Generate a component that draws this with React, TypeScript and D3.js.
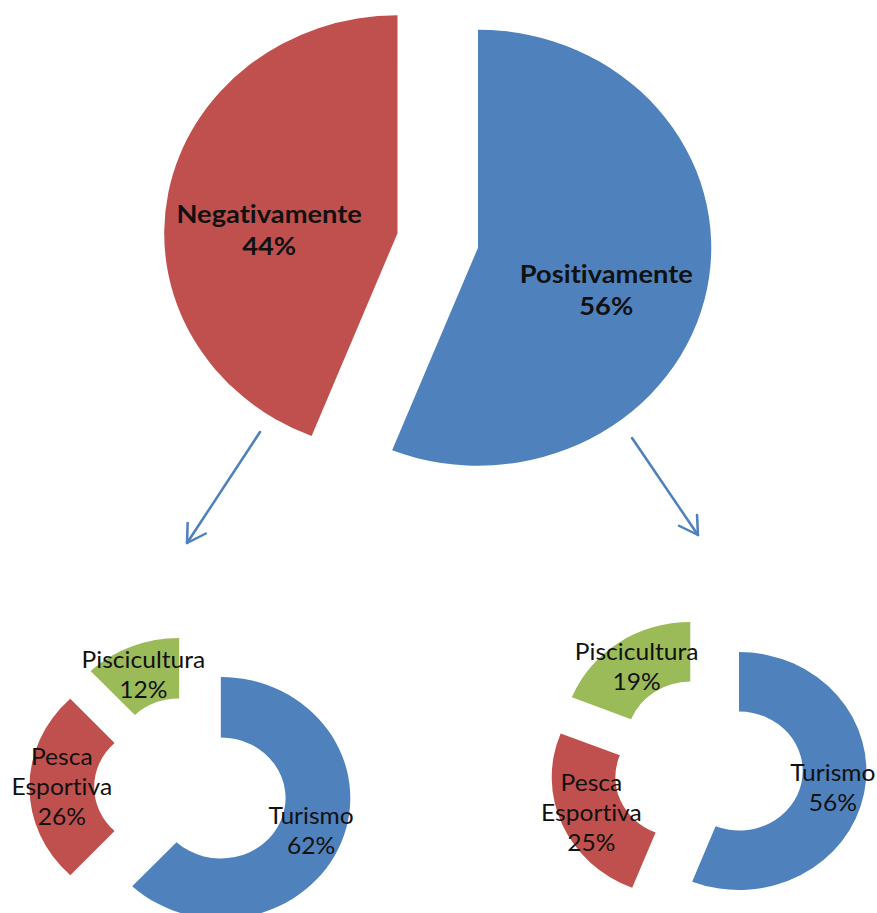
import React from "react";
import * as d3 from "d3";

// ---- data ----
const topCategories = ["Positivamente", "Negativamente"];
const topValues = [56, 44];

const subCategories = ["Turismo", "Pesca Esportiva", "Piscicultura"];
const negativeValues = [62, 26, 12];
const positiveValues = [56, 25, 19];

const sliceColors = ["#4F81BD", "#C0504D", "#9BBB59"];

// ---- layout (unstretched coordinates; whole drawing is stretched horizontally) ----
const W = 877;
const H = 913;
const SX = 1.07;
const TEXT = "#111111";

type Layout = { cx: number; cy: number; r: number; inner: number; explode: number };

const topLayout: Layout = { cx: 409.1, cy: 240.5, r: 218, inner: 0, explode: 38.3 };
const leftLayout: Layout = { cx: 178.5, cy: 787, r: 121, inner: 0.5, explode: 30 };
const rightLayout: Layout = { cx: 661.7, cy: 765.5, r: 119, inner: 0.5, explode: 29.5 };

const arrows = [
  { from: [243, 432], to: [174.8, 543] },
  { from: [590.7, 438], to: [652.3, 535] },
];

function polar(angle: number, r: number): [number, number] {
  return [Math.sin(angle) * r, -Math.cos(angle) * r];
}

function ExplodedPie({
  categories,
  values,
  layout,
  donut,
}: {
  categories: string[];
  values: number[];
  layout: Layout;
  donut: boolean;
}) {
  const pie = d3
    .pie<number>()
    .sort(null)
    .value((d) => d)
    .startAngle(0)
    .endAngle(2 * Math.PI);
  const arcs = pie(values);
  const arc = d3
    .arc<d3.PieArcDatum<number>>()
    .innerRadius(layout.r * layout.inner)
    .outerRadius(layout.r);
  const total = d3.sum(values);

  return (
    <g transform={`translate(${layout.cx},${layout.cy})`}>
      {arcs.map((a, i) => {
        const mid = (a.startAngle + a.endAngle) / 2;
        const [ox, oy] = polar(mid, layout.explode);
        return (
          <path
            key={"s" + i}
            d={arc(a) || ""}
            transform={`translate(${ox},${oy})`}
            fill={sliceColors[i % sliceColors.length]}
          />
        );
      })}
      {arcs.map((a, i) => {
        const mid = (a.startAngle + a.endAngle) / 2;
        const [ox, oy] = polar(mid, layout.explode);
        let lx: number, ly: number;
        let lines: string[];
        const pct = Math.round((values[i] / total) * 100) + "%";
        if (donut) {
          const c = arc.centroid(a);
          lx = ox + c[0];
          ly = oy + c[1];
          lines = [...categories[i].split(" "), pct];
        } else {
          const [px, py] = polar(mid, layout.r * 0.56);
          lx = ox + px;
          ly = oy + py + 20;
          lines = [categories[i], pct];
        }
        const lh = donut ? 30 : 32;
        return (
          <text
            key={"t" + i}
            x={lx}
            y={ly}
            textAnchor="middle"
            fontFamily="Lato, 'Open Sans', sans-serif"
            fontWeight={donut ? 400 : 700}
            fontSize={donut ? 23 : 25.5}
            fill={TEXT}
            style={{ fontVariantLigatures: "none", fontFeatureSettings: '"liga" 0, "clig" 0' }}
          >
            {lines.map((ln, j) => (
              <tspan
                key={j}
                x={lx}
                y={ly + (j - (lines.length - 1) / 2) * lh}
                dy="0.35em"
              >
                {ln}
              </tspan>
            ))}
          </text>
        );
      })}
    </g>
  );
}

function Arrow({ from, to }: { from: number[]; to: number[] }) {
  const ang = Math.atan2(from[1] - to[1], from[0] - to[0]);
  const len = 20;
  const spread = (30 * Math.PI) / 180;
  const a1 = [to[0] + Math.cos(ang + spread) * len, to[1] + Math.sin(ang + spread) * len];
  const a2 = [to[0] + Math.cos(ang - spread) * len, to[1] + Math.sin(ang - spread) * len];
  const line = d3.line();
  return (
    <g fill="none" stroke="#4F81BD" strokeWidth={2.4} strokeLinecap="round" strokeLinejoin="round">
      <path d={line([from as [number, number], to as [number, number]]) || ""} />
      <path d={line([a1 as [number, number], to as [number, number], a2 as [number, number]]) || ""} />
    </g>
  );
}

export default function App() {
  return (
    <svg
      width={W}
      height={H}
      style={{ position: "absolute", left: 0, top: 0, background: "#fff" }}
    >
      <rect width={W} height={H} fill="#fff" />
      <g transform={`scale(${SX},1)`}>
        <ExplodedPie categories={topCategories} values={topValues} layout={topLayout} donut={false} />
        <ExplodedPie categories={subCategories} values={negativeValues} layout={leftLayout} donut={true} />
        <ExplodedPie categories={subCategories} values={positiveValues} layout={rightLayout} donut={true} />
        {arrows.map((a, i) => (
          <Arrow key={i} from={a.from} to={a.to} />
        ))}
      </g>
    </svg>
  );
}
